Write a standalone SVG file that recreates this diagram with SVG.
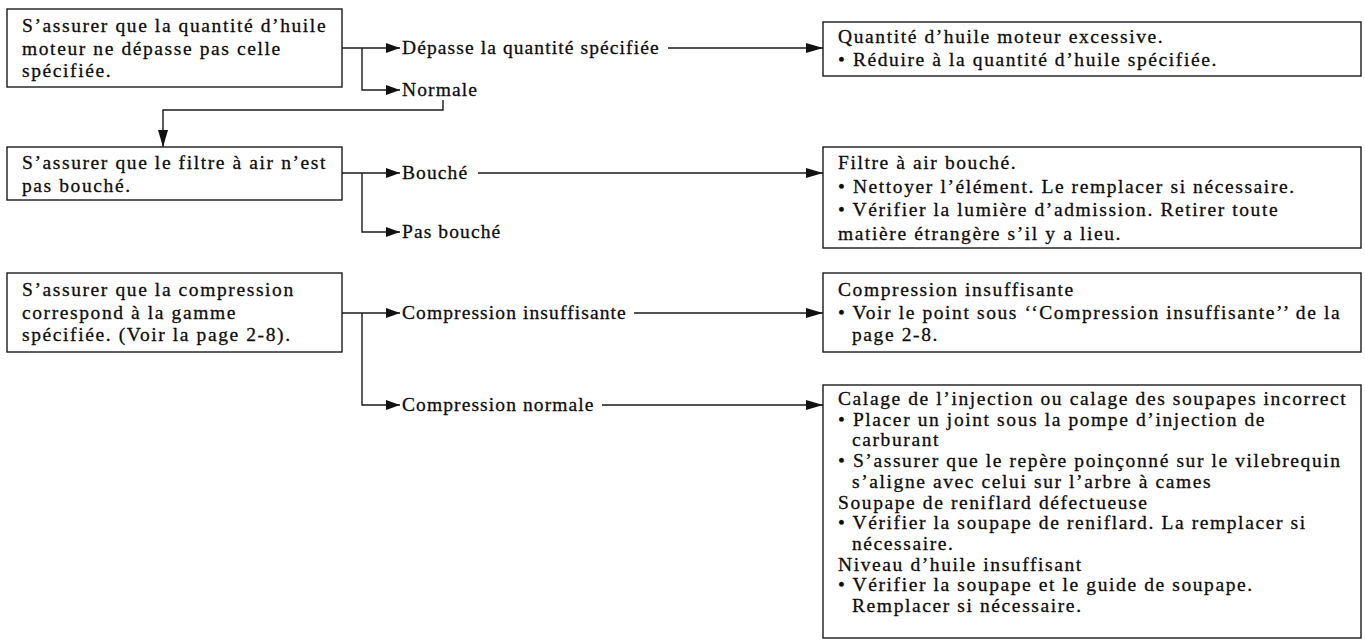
<svg xmlns="http://www.w3.org/2000/svg" width="1365" height="640" viewBox="0 0 1365 640">
  <style>
    .box { fill: #ffffff; stroke: #1a1a1a; stroke-width: 1.4; }
    .wire { fill: none; stroke: #1a1a1a; stroke-width: 1.4; }
    text { font-family: "Liberation Serif", "Times New Roman", serif; font-size: 19.5px; letter-spacing: 1.6px; fill: #0d0d0d; stroke: #0d0d0d; stroke-width: 0.3; }
    .lbl { letter-spacing: 1.1px; }
  </style>
  <defs>
    <marker id="tip" viewBox="0 0 14 10" refX="14" refY="5" markerWidth="14" markerHeight="10" markerUnits="userSpaceOnUse" orient="auto">
      <path d="M0,0 L14,5 L0,10 Z" fill="#111111"/>
    </marker>
    <marker id="tipL" viewBox="0 0 17 10" refX="17" refY="5" markerWidth="17" markerHeight="10" markerUnits="userSpaceOnUse" orient="auto">
      <path d="M0,0 L17,5 L0,10 Z" fill="#111111"/>
    </marker>
  </defs>
  <rect width="1365" height="640" fill="#ffffff"/>

  <!-- step 1: oil quantity -->
  <g id="check-oil">
    <rect class="box" x="7" y="9" width="335" height="78"/>
    <text x="22" y="32">S’assurer que la quantité d’huile</text>
    <text x="22" y="54.5">moteur ne dépasse pas celle</text>
    <text x="22" y="77">spécifiée.</text>
  </g>
  <g id="label-exceeds"><text class="lbl" x="402" y="54">Dépasse la quantité spécifiée</text></g>
  <g id="label-normal"><text class="lbl" x="402" y="96">Normale</text></g>
  <g id="result-oil">
    <rect class="box" x="823" y="22" width="538" height="54"/>
    <text x="838" y="43">Quantité d’huile moteur excessive.</text>
    <text x="838" y="66">• Réduire à la quantité d’huile spécifiée.</text>
  </g>

  <!-- step 2: air filter -->
  <g id="check-filter">
    <rect class="box" x="7" y="147" width="335" height="53"/>
    <text x="22" y="169">S’assurer que le filtre à air n’est</text>
    <text x="22" y="192">pas bouché.</text>
  </g>
  <g id="label-clogged"><text class="lbl" x="402" y="179">Bouché</text></g>
  <g id="label-not-clogged"><text class="lbl" x="402" y="238">Pas bouché</text></g>
  <g id="result-filter">
    <rect class="box" x="823" y="147" width="538" height="101"/>
    <text x="838" y="169">Filtre à air bouché.</text>
    <text x="838" y="192.5">• Nettoyer l’élément. Le remplacer si nécessaire.</text>
    <text x="838" y="216">• Vérifier la lumière d’admission. Retirer toute</text>
    <text x="838" y="239.5">matière étrangère s’il y a lieu.</text>
  </g>

  <!-- step 3: compression -->
  <g id="check-compression">
    <rect class="box" x="7" y="273" width="335" height="79"/>
    <text x="22" y="296">S’assurer que la compression</text>
    <text x="22" y="318.5">correspond à la gamme</text>
    <text x="22" y="341">spécifiée. (Voir la page 2-8).</text>
  </g>
  <g id="label-low-compression"><text class="lbl" x="402" y="319">Compression insuffisante</text></g>
  <g id="label-normal-compression"><text class="lbl" x="402" y="411">Compression normale</text></g>
  <g id="result-low-compression">
    <rect class="box" x="823" y="273" width="538" height="79"/>
    <text x="838" y="296">Compression insuffisante</text>
    <text x="838" y="318.5">• Voir le point sous ‘‘Compression insuffisante’’ de la</text>
    <text x="852" y="341">page 2-8.</text>
  </g>
  <g id="result-normal-compression">
    <rect class="box" x="823" y="385" width="538" height="253"/>
    <text x="838" y="405">Calage de l’injection ou calage des soupapes incorrect</text>
    <text x="838" y="425.7">• Placer un joint sous la pompe d’injection de</text>
    <text x="852" y="446.4">carburant</text>
    <text x="838" y="467.1">• S’assurer que le repère poinçonné sur le vilebrequin</text>
    <text x="852" y="487.8">s’aligne avec celui sur l’arbre à cames</text>
    <text x="838" y="508.5">Soupape de reniflard défectueuse</text>
    <text x="838" y="529.2">• Vérifier la soupape de reniflard. La remplacer si</text>
    <text x="852" y="549.9">nécessaire.</text>
    <text x="838" y="570.6">Niveau d’huile insuffisant</text>
    <text x="838" y="591.3">• Vérifier la soupape et le guide de soupape.</text>
    <text x="852" y="612">Remplacer si nécessaire.</text>
  </g>

  <!-- connectors -->
  <g id="connectors">
    <path class="wire" d="M342,48 H400" marker-end="url(#tip)"/>
    <path class="wire" d="M362,48 V90 H400" marker-end="url(#tip)"/>
    <path class="wire" d="M668,48 H823" marker-end="url(#tipL)"/>
    <path class="wire" d="M443,100 V110 H163 V147" marker-end="url(#tipL)"/>

    <path class="wire" d="M342,173 H400" marker-end="url(#tip)"/>
    <path class="wire" d="M362,173 V232 H400" marker-end="url(#tip)"/>
    <path class="wire" d="M478,173 H823" marker-end="url(#tipL)"/>

    <path class="wire" d="M342,313 H400" marker-end="url(#tip)"/>
    <path class="wire" d="M362,313 V405 H400" marker-end="url(#tip)"/>
    <path class="wire" d="M634,313 H823" marker-end="url(#tipL)"/>
    <path class="wire" d="M602,405 H823" marker-end="url(#tipL)"/>
  </g>
</svg>
